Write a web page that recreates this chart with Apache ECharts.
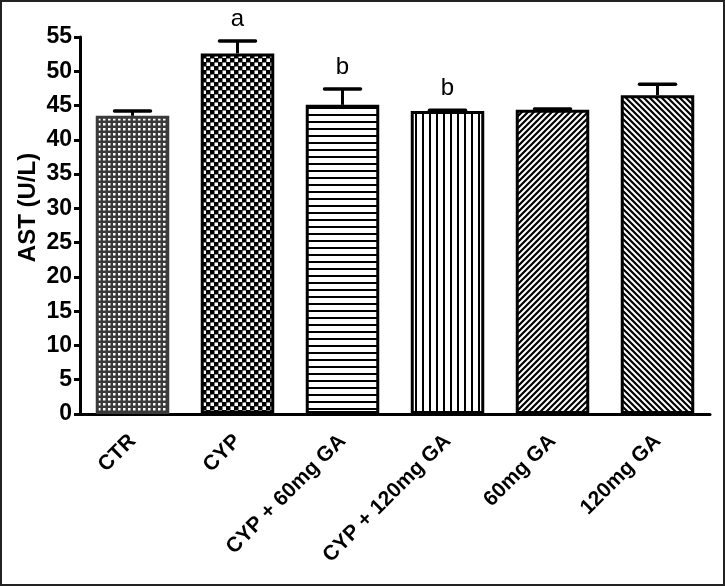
<!DOCTYPE html>
<html>
<head>
<meta charset="utf-8">
<script src="https://cdn.jsdelivr.net/npm/echarts@6/dist/echarts.min.js"></script>
<style>
html,body{margin:0;padding:0;background:#fff;}
#wrap{width:725px;height:586px;box-sizing:border-box;border:2px solid #222;background:#fff;}
#chart{width:721px;height:582px;}
</style>
</head>
<body>
<div id="wrap"><div id="chart"></div></div>
<script>
const categories = ['CTR', 'CYP', 'CYP + 60mg GA', 'CYP + 120mg GA', '60mg GA', '120mg GA'];
const means = [43.5, 52.6, 45.1, 44.2, 44.4, 46.5];
const errors = [0.7, 1.8, 2.3, 0.1, 0.1, 1.6];
const letters = ['', 'a', 'b', 'b', '', ''];
const yTicks = { min: 0, max: 55, interval: 5 };

function tile(w, h, draw) {
  const c = document.createElement('canvas');
  c.width = w; c.height = h;
  const ctx = c.getContext('2d');
  draw(ctx, w, h);
  return { image: c, repeat: 'repeat' };
}
const patterns = [
  tile(5, 5, (ctx) => { ctx.fillStyle = '#3a3a3a'; ctx.fillRect(0,0,5,5); ctx.fillStyle = '#fff'; ctx.fillRect(1,1,2.5,2.5); }),
  tile(8, 8, (ctx) => { ctx.fillStyle = '#000'; ctx.fillRect(0,0,8,8); ctx.fillStyle = '#fff'; ctx.fillRect(0.5,0.5,3.5,3.5); ctx.fillRect(4.5,4.5,3.5,3.5); }),
  tile(7, 7, (ctx) => { ctx.fillStyle = '#fff'; ctx.fillRect(0,0,7,7); ctx.fillStyle = '#000'; ctx.fillRect(0,0,7,2); }),
  tile(7.5, 7, (ctx) => { ctx.fillStyle = '#fff'; ctx.fillRect(0,0,8,7); ctx.fillStyle = '#000'; ctx.fillRect(0,0,2,7); }),
  tile(6, 6, (ctx) => { ctx.fillStyle = '#fff'; ctx.fillRect(0,0,6,6); ctx.strokeStyle = '#000'; ctx.lineWidth = 2.2;
    ctx.beginPath(); ctx.moveTo(-1,7); ctx.lineTo(7,-1); ctx.moveTo(-1,1); ctx.lineTo(1,-1); ctx.moveTo(5,7); ctx.lineTo(7,5); ctx.stroke(); }),
  tile(6, 6, (ctx) => { ctx.fillStyle = '#fff'; ctx.fillRect(0,0,6,6); ctx.strokeStyle = '#000'; ctx.lineWidth = 2.2;
    ctx.beginPath(); ctx.moveTo(-1,-1); ctx.lineTo(7,7); ctx.moveTo(5,-1); ctx.lineTo(7,1); ctx.moveTo(-1,5); ctx.lineTo(1,7); ctx.stroke(); })
];
const borderColors = ['#3a3a3a', '#000', '#000', '#000', '#000', '#000'];

const chart = echarts.init(document.getElementById('chart'));
const fontFam = 'Liberation Sans, Arial, sans-serif';
chart.setOption({
  animation: false,
  grid: { left: 78, right: 13, top: 35, bottom: 170 },
  xAxis: {
    type: 'category',
    data: categories,
    axisLine: { lineStyle: { color: '#000', width: 3 } },
    axisTick: { alignWithLabel: true, length: 7, lineStyle: { color: '#000', width: 3 } },
    axisLabel: { rotate: 45, color: '#000', fontWeight: 'bold', fontSize: 21, fontFamily: fontFam, margin: 24 }
  },
  yAxis: {
    type: 'value',
    min: yTicks.min, max: yTicks.max, interval: yTicks.interval,
    name: 'AST (U/L)',
    nameLocation: 'middle',
    nameGap: 40,
    nameMoveOverlap: false,
    nameTextStyle: { color: '#000', fontWeight: 'bold', fontSize: 24, fontFamily: fontFam, padding: [0, 0, 0, 36] },
    splitLine: { show: false },
    axisLine: { show: true, lineStyle: { color: '#000', width: 3 } },
    axisTick: { show: true, length: 6, lineStyle: { color: '#000', width: 3 } },
    axisLabel: { color: '#000', fontWeight: 'bold', fontSize: 23, fontFamily: fontFam, margin: 8 }
  },
  series: [
    {
      type: 'bar',
      barCategoryGap: '30%',
      data: means.map((v, i) => ({
        value: v,
        itemStyle: { color: patterns[i], borderColor: borderColors[i], borderWidth: 3 }
      })),
      z: 2
    },
    {
      type: 'custom',
      z: 3,
      data: means.map((v, i) => [i, v, v + errors[i], letters[i]]),
      renderItem: function (params, api) {
        const x = api.coord([api.value(0), api.value(1)])[0];
        const yBase = api.coord([api.value(0), api.value(1)])[1];
        const yTop = api.coord([api.value(0), api.value(2)])[1];
        const half = 18;
        const children = [
          { type: 'line', shape: { x1: x, y1: yBase, x2: x, y2: yTop }, style: { stroke: '#000', lineWidth: 3 } },
          { type: 'line', shape: { x1: x - half, y1: yTop, x2: x + half, y2: yTop }, style: { stroke: '#000', lineWidth: 3.5, lineCap: 'round' } }
        ];
        const letter = letters[params.dataIndex];
        if (letter) {
          children.push({ type: 'text', style: { text: letter, x: x, y: yTop - 10, align: 'center', verticalAlign: 'bottom', fontSize: 24, fontFamily: fontFam, fill: '#000' } });
        }
        return { type: 'group', children: children };
      }
    }
  ]
});
</script>
</body>
</html>
